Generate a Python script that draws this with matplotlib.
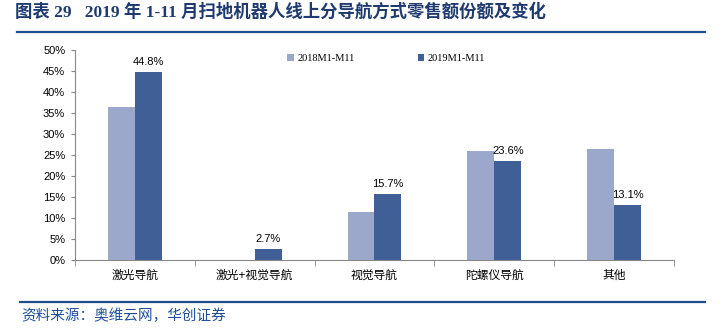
import numpy as np
import matplotlib
matplotlib.use('Agg')
from matplotlib import pyplot as plt
from matplotlib.lines import Line2D

categories = ['激光导航', '激光+视觉导航', '视觉导航', '陀螺仪导航', '其他']
share_2018 = [36.4, 0.0, 11.4, 26.0, 26.4]
share_2019 = [44.8, 2.7, 15.7, 23.6, 13.1]
series_names = ['2018M1-M11', '2019M1-M11']
y_ticks = [0, 5, 10, 15, 20, 25, 30, 35, 40, 45, 50]

plt.rcParams['font.family'] = ['Liberation Sans', 'Noto Sans CJK SC']

fig = plt.figure(figsize=(7.23, 3.3), dpi=100)
ax = fig.add_axes([0.1037, 0.2121, 0.8285, 0.6364])

x = np.arange(len(categories))
w = 0.225
ax.bar(x - w / 2, share_2018, width=w, color='#9BA8CB', label=series_names[0])
ax.bar(x + w / 2, share_2019, width=w, color='#3F5F96', label=series_names[1])

for xi, v in zip(x, share_2019):
    ax.text(xi + w / 2, v + 1.2, f'{v:.1f}%', ha='center', va='bottom', fontsize=8)

ax.set_xlim(-0.5, len(categories) - 0.5)
ax.set_ylim(0, 50)
ax.set_yticks(y_ticks)
ax.set_yticklabels([f'{t}%' for t in y_ticks], fontsize=8)
ax.set_xticks(x)
ax.set_xticklabels(categories, fontsize=8.5)
ax.set_xticks(np.arange(len(categories) + 1) - 0.5, minor=True)
ax.tick_params(axis='x', which='major', length=0, pad=7)
ax.tick_params(axis='x', which='minor', length=4, color='#888888', direction='out')
ax.tick_params(axis='y', length=3, color='#888888', pad=4)
for s in ['top', 'right']:
    ax.spines[s].set_visible(False)
ax.spines['left'].set_color('#888888')
ax.spines['bottom'].set_color('#888888')

leg = ax.legend(loc='upper left', bbox_to_anchor=(0.339, 1.025), ncol=2, frameon=False,
                prop={'family': 'Liberation Serif', 'size': 7.5}, handlelength=0.6,
                handleheight=0.6, columnspacing=6.0, handletextpad=0.4)

# header and footer
fig.text(0.021, 0.963, '图表 29   2019 年 1-11 月扫地机器人线上分导航方式零售额份额及变化',
         fontsize=12.5, fontweight='bold', color='#1F3A6E', va='center',
         family=['Liberation Serif', 'Noto Sans CJK SC'])
fig.add_artist(Line2D([0.024, 0.975], [0.903, 0.903], color='#1F4E8C', lw=1.6))
fig.add_artist(Line2D([0.028, 0.975], [0.085, 0.085], color='#1F4E8C', lw=1.6))
fig.text(0.030, 0.042, '资料来源：奥维云网，华创证券', fontsize=10.5, color='#1F4E9A',
         va='center', style='italic', family=['Noto Sans CJK SC'])

fig.savefig('out.png', dpi=100)
